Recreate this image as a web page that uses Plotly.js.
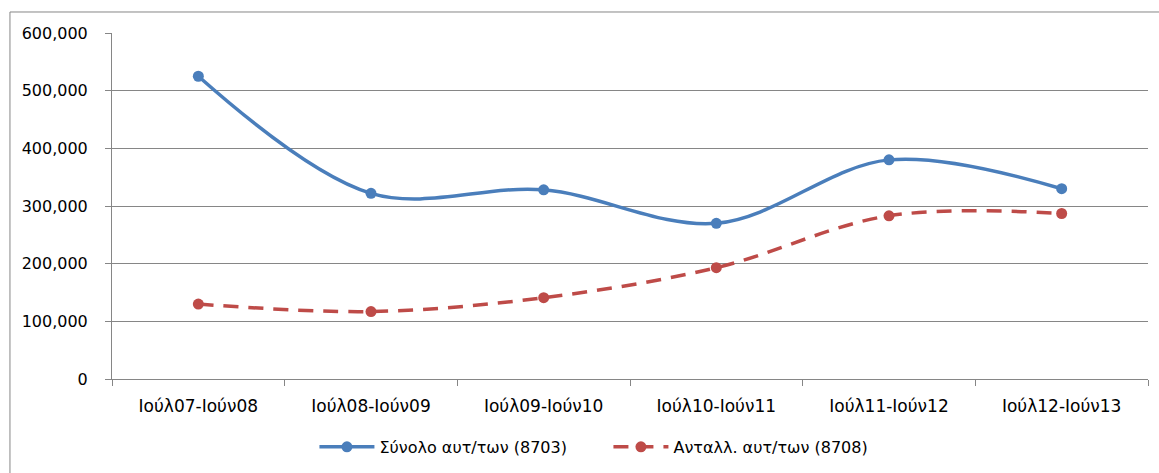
<!DOCTYPE html>
<html>
<head>
<meta charset="utf-8">
<script src="https://cdn.plot.ly/plotly-3.0.1.min.js"></script>
<style>html,body{margin:0;padding:0;background:#fff;}</style>
</head>
<body>
<div id="chart" style="width:1159px;height:473px;"></div>
<script>
const categories = ['Ιούλ07-Ιούν08','Ιούλ08-Ιούν09','Ιούλ09-Ιούν10','Ιούλ10-Ιούν11','Ιούλ11-Ιούν12','Ιούλ12-Ιούν13'];
const totalValues = [525000, 322000, 328000, 270000, 380000, 330000];
const exchangeValues = [130000, 117000, 141000, 193000, 283000, 287000];
const seriesNames = ['Σύνολο αυτ/των (8703)', 'Ανταλλ. αυτ/των (8708)'];
const yTicks = [0, 100000, 200000, 300000, 400000, 500000, 600000];
const yTickLabels = ['0','100,000','200,000','300,000','400,000','500,000','600,000'];

const font = {family: 'DejaVu Sans, sans-serif', size: 16, color: '#000'};
const xFont = {family: 'DejaVu Sans, sans-serif', size: 17, color: '#000'};

const traces = [
  {x: categories, y: totalValues, name: seriesNames[0], type: 'scatter', mode: 'lines+markers',
   line: {color: '#4A7EBB', width: 3.5, shape: 'spline', smoothing: 1},
   marker: {color: '#4A7EBB', size: 11}},
  {x: categories, y: exchangeValues, name: seriesNames[1], type: 'scatter', mode: 'lines+markers',
   line: {color: '#BE4B48', width: 3.5, shape: 'spline', smoothing: 1, dash: '15px,10px'},
   marker: {color: '#BE4B48', size: 11}}
];

const layout = {
  width: 1159, height: 473,
  margin: {l: 112, r: 11, t: 33, b: 94, autoexpand: false},
  paper_bgcolor: '#fff', plot_bgcolor: '#fff',
  font: font,
  showlegend: true,
  legend: {orientation: 'h', x: 0.2713, xref: 'container', xanchor: 'left', y: 0.091, yref: 'container', yanchor: 'top',
           font: font, itemwidth: 55, entrywidth: 224, traceorder: 'normal'},
  xaxis: {type: 'category', range: [-0.5, 5.5], tickson: 'boundaries', ticks: 'outside', ticklen: 6, tickcolor: '#868686',
          showline: true, linecolor: '#868686', linewidth: 1, showgrid: false, zeroline: false,
          tickfont: xFont, ticklabelstandoff: 12, automargin: false},
  yaxis: {range: [0, 600000], tickvals: yTicks, ticktext: yTickLabels, ticks: 'outside', ticklen: 6,
          tickcolor: '#868686', showline: true, linecolor: '#868686', linewidth: 1,
          showgrid: true, gridcolor: '#868686', gridwidth: 1, zeroline: false,
          tickfont: font, ticklabelstandoff: 14, automargin: false},
  shapes: [
    {type: 'line', xref: 'paper', yref: 'paper', x0: -0.0985, x1: 1.02, y0: 1.0607, y1: 1.0607,
     line: {color: '#868686', width: 1}},
    {type: 'line', xref: 'paper', yref: 'paper', x0: -0.0985, x1: -0.0985, y0: 1.0607, y1: -0.3,
     line: {color: '#868686', width: 1}}
  ]
};

Plotly.newPlot('chart', traces, layout, {displayModeBar: false, staticPlot: true});
</script>
</body>
</html>
